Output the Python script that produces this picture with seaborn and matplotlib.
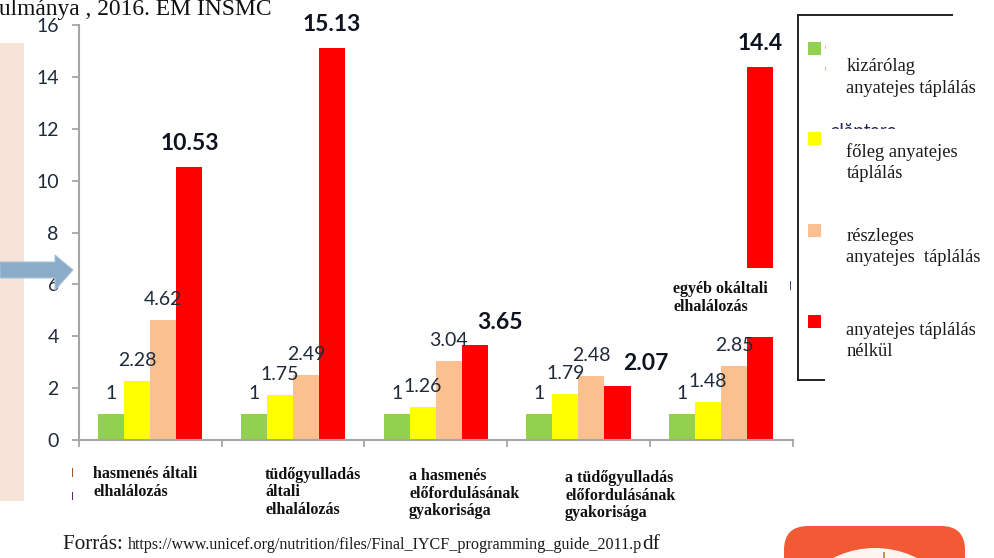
import matplotlib
matplotlib.use("Agg")
import matplotlib.pyplot as plt
import seaborn as sns
import pandas as pd
from matplotlib.patches import Rectangle, Polygon, FancyBboxPatch, Circle

categories = ["hasmenés általi\nelhalálozás",
              "tüdőgyulladás\náltali\nelhalálozás",
              "a hasmenés\nelőfordulásának\ngyakorisága",
              "a tüdőgyulladás\nelőfordulásának\ngyakorisága",
              "egyéb okáltali\nelhalálozás"]
kizarolag = [1, 1, 1, 1, 1]
foleg = [2.28, 1.75, 1.26, 1.79, 1.48]
reszleges = [4.62, 2.49, 3.04, 2.48, 2.85]
nelkul = [10.53, 15.13, 3.65, 2.07, 14.4]
series_names = ["kizárólag\nanyatejes táplálás", "főleg anyatejes\ntáplálás",
                "részleges\nanyatejes  táplálás", "anyatejes táplálás\nnélkül"]
series_values = [kizarolag, foleg, reszleges, nelkul]
series_colors = ["#92d050", "#ffff00", "#fac090", "#ff0000"]
y_ticks = [0, 2, 4, 6, 8, 10, 12, 14, 16]
heading = "ulmánya , 2016. EM INSMC"

df = pd.DataFrame({
    "cat": [c for _ in series_names for c in categories],
    "series": [s for s in series_names for _ in categories],
    "value": [v for vals in series_values for v in vals],
})

W, H = 995, 558
sns.set_style("white")
plt.rcParams["font.family"] = ["Lato", "DejaVu Sans"]
fig = plt.figure(figsize=(W / 100, H / 100), dpi=100)
ax = fig.add_axes([79 / W, 1 - 440 / H, (792.5 - 79) / W, (440 - 25) / H])
sns.barplot(data=df, x="cat", y="value", hue="series",
            hue_order=series_names, order=categories, palette=series_colors,
            width=0.73, gap=0, saturation=1, legend=False, ax=ax, zorder=2,
            linewidth=0, edgecolor="none")
ax.set_xlim(-0.5, 4.5)
ax.set_ylim(0, 16)
ax.set_xlabel("")
ax.set_ylabel("")
ax.set_yticks(y_ticks)
ax.set_xticks([i - 0.5 for i in range(6)])
ax.set_xticklabels([""] * 6)
for s in ("top", "right"):
    ax.spines[s].set_visible(False)
for s in ("left", "bottom"):
    ax.spines[s].set_color("#a6a6a6")
    ax.spines[s].set_linewidth(1.5)
ax.tick_params(axis="both", length=5, width=1.3, color="#a6a6a6", bottom=True, left=True)
ax.tick_params(axis="y", labelsize=14, labelcolor="#1f2a3a", pad=9.5)

# value labels, offset in pixels above each bar
for si, cont in enumerate(ax.containers):
    for ci, bar in enumerate(cont.patches):
        val = series_values[si][ci]
        bold = si == 3
        dx = 0
        if si == 3 and ci == 2:
            dx = 25
        if si == 3 and ci == 3:
            dx = 28
        dy = 23 if bold else 20.5
        ax.annotate(f"{val:g}", (bar.get_x() + bar.get_width() / 2, bar.get_height()),
                    xytext=(dx * 0.72, dy * 0.72), textcoords="offset points",
                    ha="center", va="center", zorder=5,
                    fontsize=16.5 if bold else 14,
                    fontweight="bold" if bold else "normal",
                    color="#0d1420" if bold else "#1f2a3a")

# overlay in pixel coordinates for the pasted slide elements
ov = fig.add_axes([0, 0, 1, 1], zorder=10)
ov.set_xlim(0, W)
ov.set_ylim(H, 0)
ov.axis("off")
ov.patch.set_alpha(0)

ov.add_patch(Rectangle((0, 43), 24, 458, color="#f7e4d9", lw=0))
ov.add_patch(Polygon([(0, 262), (55, 262), (55, 255), (73, 270), (55, 290), (55, 278), (0, 278)],
                     closed=True, facecolor="#8aacc8", edgecolor="#a9c2d8", lw=0.8))

SERIF = "Liberation Serif"
ov.text(-1, 14.5, heading, family=SERIF, fontsize=16.9, color="#111111", ha="left", va="baseline")

# white cover over the last red bar, and its label
ov.add_patch(Rectangle((665, 268), 128, 69, color="white", lw=0))
ov.text(673, 298, categories[4], family=SERIF, fontweight="bold", fontsize=11.5,
        color="#111111", ha="left", va="center", linespacing=1.09)

# category labels
cat_pos = [(93, 483), (265, 492.5), (409, 493.5), (565, 495.5)]
for (x, y), c in zip(cat_pos, categories[:4]):
    ov.text(x, y, c, family=SERIF, fontweight="bold", fontsize=11.5, color="#111111",
            ha="left", va="center", linespacing=1.09)

# legend box
ov.plot([953, 798, 798, 825], [15, 15, 379.5, 379.5], color="#222222", lw=1.4,
        solid_joinstyle="miter", solid_capstyle="butt")
# partly hidden leftover word: the white patch above it cuts off its lower part
ov.text(830, 131, "alăptare", fontsize=13.5, color="#1f2a5a", ha="left", va="center", zorder=2)
ov.add_patch(Rectangle((826, 129), 127, 20, color="white", lw=0, zorder=2.5))
ov.add_patch(Rectangle((789.5, 281), 1.5, 9, color="#33507a", lw=0))
ov.add_patch(Rectangle((825, 46), 1, 3, color="#e8b98a", lw=0))
ov.add_patch(Rectangle((825, 67), 1, 4, color="#e8b98a", lw=0))
ov.add_patch(Rectangle((71.5, 468), 1.2, 9, color="#a5531a", lw=0))
ov.add_patch(Rectangle((71.5, 492), 1.2, 8, color="#5a2a6a", lw=0))
sq_y = [41.5, 131.5, 224, 315]
txt_y = [77.5, 162.5, 247, 341]
for name, col, sy, ty in zip(series_names, series_colors, sq_y, txt_y):
    ov.add_patch(Rectangle((808, sy), 13, 13, color=col, lw=0, zorder=3))
    ov.text(846.5, ty, name, family=SERIF, fontsize=13.3, color="#1a1a1a",
            ha="left", va="center", linespacing=1.37, zorder=3)

# source line
fig.canvas.draw()
r = fig.canvas.get_renderer()
x = 63
for s, fs in [("Forrás: ", 15.3),
              ("https://www.unicef.org/nutrition/files/Final_IYCF_programming_guide_2011.p", 11.6),
              ("df", 15.3)]:
    t = ov.text(x, 549, s.replace(" ", "\u00a0"), family=SERIF, fontsize=fs, color="#1a1a1a",
                ha="left", va="baseline")
    x = ov.transData.inverted().transform((t.get_window_extent(r).x1, 0))[0]

# icon at lower right
ov.add_patch(FancyBboxPatch((784, 526), 181, 80, boxstyle="round,pad=0,rounding_size=24",
                            color="#f15a35", lw=0))
ov.add_patch(Circle((875, 641), 93, color="#fdf6f0", lw=0))
ov.add_patch(Rectangle((883, 552), 1.5, 6, color="#c9905a", lw=0))

fig.savefig("out.png", dpi=100)
